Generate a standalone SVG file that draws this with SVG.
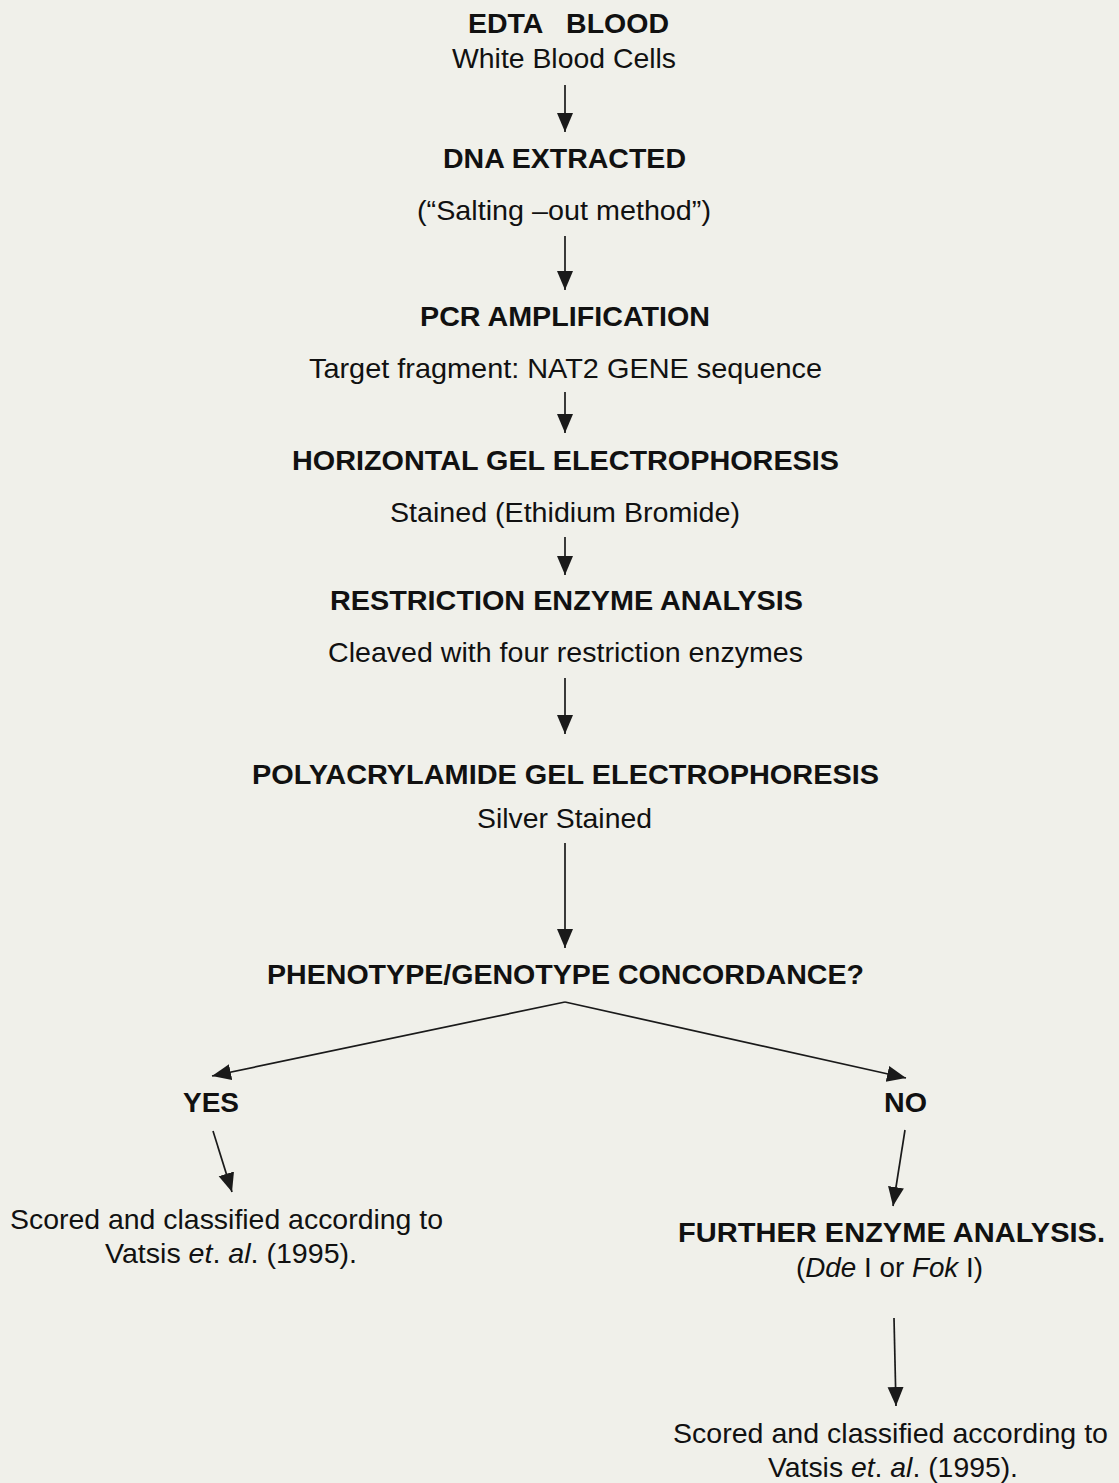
<svg xmlns="http://www.w3.org/2000/svg" width="1119" height="1483" viewBox="0 0 1119 1483">
  <style>
    text { font-family: "Liberation Sans", Arial, sans-serif; font-size: 27.5px; fill: #111; text-anchor: middle; }
    .b { font-weight: bold; }
    .i { font-style: italic; }
    .conn line { stroke: #1a1a1a; stroke-width: 1.7; fill: none; marker-end: url(#ah); }
  </style>
  <defs>
    <marker id="ah" markerUnits="userSpaceOnUse" markerWidth="22" markerHeight="18" refX="19" refY="8" orient="auto">
      <path d="M0,0 L19,8 L0,16 z" fill="#1a1a1a"/>
    </marker>
  </defs>
  <rect x="0" y="0" width="1119" height="1483" fill="#f0f0ea"/>

  <g id="n-edta">
    <text class="b" x="568.5" y="33" textLength="201" lengthAdjust="spacingAndGlyphs" xml:space="preserve">EDTA   BLOOD</text>
    <text x="564" y="68" textLength="224" lengthAdjust="spacingAndGlyphs">White Blood Cells</text>
  </g>
  <g id="n-dna">
    <text class="b" x="564.5" y="168" textLength="243" lengthAdjust="spacingAndGlyphs">DNA EXTRACTED</text>
    <text x="564" y="220" textLength="294" lengthAdjust="spacingAndGlyphs">(“Salting –out method”)</text>
  </g>
  <g id="n-pcr">
    <text class="b" x="565" y="326" textLength="290" lengthAdjust="spacingAndGlyphs">PCR AMPLIFICATION</text>
    <text x="565.5" y="378" textLength="513" lengthAdjust="spacingAndGlyphs">Target fragment: NAT2 GENE sequence</text>
  </g>
  <g id="n-hge">
    <text class="b" x="565.5" y="470" textLength="547" lengthAdjust="spacingAndGlyphs">HORIZONTAL GEL ELECTROPHORESIS</text>
    <text x="565" y="522" textLength="350" lengthAdjust="spacingAndGlyphs">Stained (Ethidium Bromide)</text>
  </g>
  <g id="n-rea">
    <text class="b" x="566.5" y="610" textLength="473" lengthAdjust="spacingAndGlyphs">RESTRICTION ENZYME ANALYSIS</text>
    <text x="565.5" y="662" textLength="475" lengthAdjust="spacingAndGlyphs">Cleaved with four restriction enzymes</text>
  </g>
  <g id="n-page">
    <text class="b" x="565.5" y="784" textLength="627" lengthAdjust="spacingAndGlyphs">POLYACRYLAMIDE GEL ELECTROPHORESIS</text>
    <text x="564.5" y="828" textLength="175" lengthAdjust="spacingAndGlyphs">Silver Stained</text>
  </g>
  <g id="n-concord">
    <text class="b" x="565.5" y="984" textLength="597" lengthAdjust="spacingAndGlyphs">PHENOTYPE/GENOTYPE CONCORDANCE?</text>
  </g>
  <g id="n-yes">
    <text class="b" x="211" y="1112" textLength="56" lengthAdjust="spacingAndGlyphs">YES</text>
  </g>
  <g id="n-no">
    <text class="b" x="905.5" y="1112" textLength="43" lengthAdjust="spacingAndGlyphs">NO</text>
  </g>
  <g id="n-scored-left">
    <text x="226.5" y="1229" textLength="433" lengthAdjust="spacingAndGlyphs">Scored and classified according to</text>
    <text x="231" y="1263" textLength="252" lengthAdjust="spacingAndGlyphs">Vatsis <tspan class="i">et</tspan>. <tspan class="i">al</tspan>. (1995).</text>
  </g>
  <g id="n-further">
    <text class="b" x="891.5" y="1242" textLength="427" lengthAdjust="spacingAndGlyphs">FURTHER ENZYME ANALYSIS.</text>
    <text x="889.5" y="1277" textLength="187" lengthAdjust="spacingAndGlyphs">(<tspan class="i">Dde</tspan> I or <tspan class="i">Fok</tspan> I)</text>
  </g>
  <g id="n-scored-right">
    <text x="890.5" y="1443" textLength="435" lengthAdjust="spacingAndGlyphs">Scored and classified according to</text>
    <text x="893" y="1477" textLength="250" lengthAdjust="spacingAndGlyphs">Vatsis <tspan class="i">et</tspan>. <tspan class="i">al</tspan>. (1995).</text>
  </g>

  <g id="connectors" class="conn">
    <line x1="565" y1="85" x2="565" y2="132"/>
    <line x1="565" y1="236" x2="565" y2="290"/>
    <line x1="565" y1="392" x2="565" y2="433"/>
    <line x1="565" y1="537" x2="565" y2="575"/>
    <line x1="565" y1="678" x2="565" y2="734"/>
    <line x1="565" y1="843" x2="565" y2="948"/>
    <line x1="565" y1="1002" x2="212" y2="1076"/>
    <line x1="565" y1="1002" x2="906" y2="1078"/>
    <line x1="213" y1="1131" x2="232" y2="1192"/>
    <line x1="905" y1="1130" x2="893" y2="1206"/>
    <line x1="894" y1="1318" x2="896" y2="1406"/>
  </g>
</svg>
